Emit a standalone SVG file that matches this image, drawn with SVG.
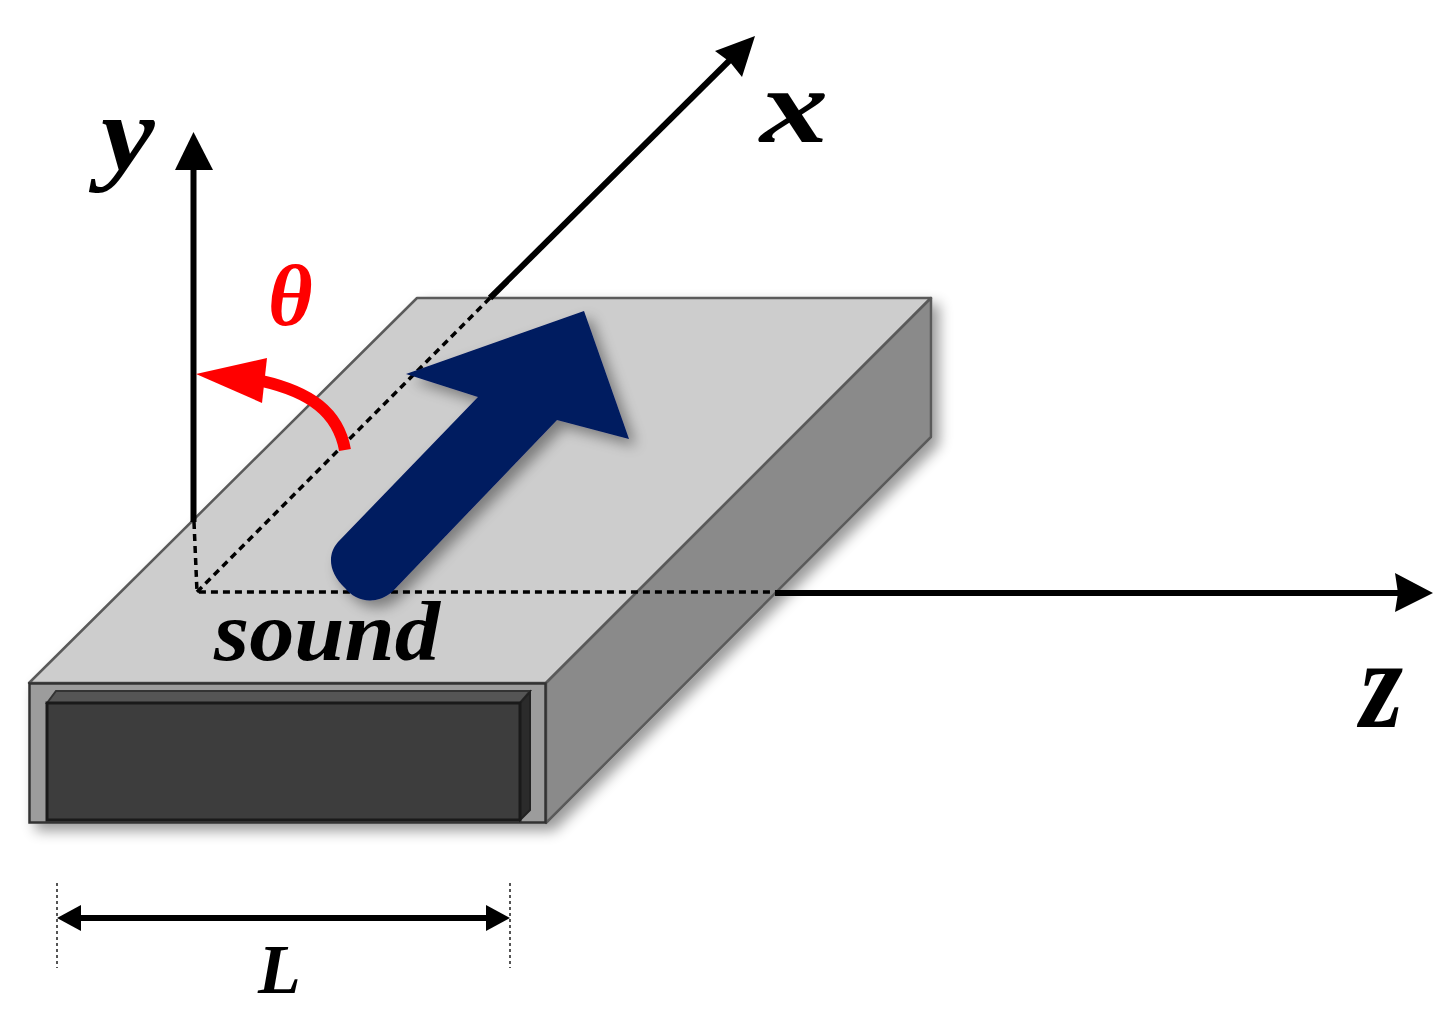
<svg xmlns="http://www.w3.org/2000/svg" width="1450" height="1017" viewBox="0 0 1450 1017">
<style>
text{font-family:"Liberation Serif","Times New Roman",serif;font-style:italic;font-weight:bold;fill:#000}
.axis{stroke:#000;stroke-width:6;fill:none}
.dash{stroke:#000;stroke-width:3.5;stroke-dasharray:7 5;fill:none}
.edge{stroke:#5a5a5a;stroke-width:2.5;stroke-linejoin:round}
</style>
<defs>
<filter id="sh" x="-10%" y="-10%" width="125%" height="125%"><feGaussianBlur in="SourceAlpha" stdDeviation="7"/><feOffset dx="7" dy="7"/><feComponentTransfer><feFuncA type="linear" slope="0.4"/></feComponentTransfer><feMerge><feMergeNode/><feMergeNode in="SourceGraphic"/></feMerge></filter>
</defs>
<rect width="1450" height="1017" fill="#fff"/>
<g id="box">
<g filter="url(#sh)">
<path class="edge" d="M29 683L417 298H931L546 683Z" fill="#cdcdcd"/>
<path class="edge" d="M546 683L931 298V437L546 823Z" fill="#8a8a8a"/>
<rect x="29.500" y="683.500" width="516" height="139" fill="#9c9c9c" stroke="#333" stroke-width="2.500"/>
</g>
<path d="M47 703L56 691H530L520 703Z" fill="#555" stroke="#333" stroke-width="2"/>
<path d="M520 703L530 692V810L520 820Z" fill="#2b2b2b" stroke="#222" stroke-width="2"/>
<rect x="47" y="703" width="473" height="117" fill="#3d3d3d" stroke="#1a1a1a" stroke-width="3"/>
</g>
<g id="connectors">
<path class="axis" d="M193.500 522V160"/>
<path d="M193.500 132L213 170H175Z"/>
<path class="axis" d="M490 298L735 55"/>
<path d="M755 36L742 77L730 62L715 51Z"/>
<path class="axis" d="M775 593H1405"/>
<path d="M1433 593L1395 612L1398 593L1395 573Z"/>
<path class="dash" d="M194 522L197 592H775"/>
<path class="dash" d="M197 592L490 298"/>
<path class="axis" d="M72 918H495"/>
<path d="M57 918L81 905V931Z"/>
<path d="M510 918L486 905V931Z"/>
<path d="M57 883V968M510 883V968" stroke="#555" stroke-width="2" stroke-dasharray="3 3" fill="none"/>
</g>
<g id="sound-arrow" filter="url(#sh)">
<path d="M338 542L478 397L406 374L584 311L629 439L557 420L392 592C375 606 355 601 345 588C330 574 326 556 338 542Z" fill="#001a60"/>
</g>
<g id="theta-arrow">
<path d="M345 450C338 412 310 392 262 381" fill="none" stroke="#f00" stroke-width="12"/>
<path d="M196 374L267 358L262 403Z" fill="#f00"/>
</g>
<g id="labels">
<text transform="translate(101 170) scale(1.13 1)" font-size="107">y</text>
<text transform="translate(760 142) scale(1.3 1)" font-size="105">x</text>
<text transform="translate(1360 727) scale(.87 1)" font-size="127">z</text>
<text x="268" y="325" font-size="86" style="fill:#f00">θ</text>
<text x="214" y="660" font-size="84" textLength="226" lengthAdjust="spacingAndGlyphs">sound</text>
<text x="258" y="993" font-size="70">L</text>
</g>
</svg>
